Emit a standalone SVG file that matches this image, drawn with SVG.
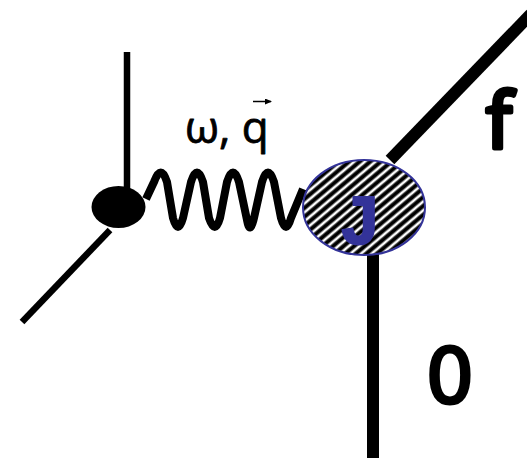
<svg xmlns="http://www.w3.org/2000/svg" width="527" height="458" viewBox="0 0 527 458">
<style>
.l{fill:none;stroke:#000;stroke-linecap:butt}
.t{stroke-linejoin:round;stroke-linecap:round}
</style>
<defs>
<linearGradient id="g" x1="0" y1="0" x2="1" y2="0">
<stop offset="0" stop-color="#000"/><stop offset=".4" stop-color="#000"/><stop offset=".62" stop-color="#fff"/><stop offset=".78" stop-color="#fff"/><stop offset="1" stop-color="#000"/>
</linearGradient>
<pattern id="h" width="6.800" height="20" patternUnits="userSpaceOnUse" patternTransform="rotate(50)">
<rect width="6.800" height="20" fill="url(#g)"/>
</pattern>
<marker id="a" markerWidth="7" markerHeight="6" refX="6" refY="3" orient="auto" markerUnits="userSpaceOnUse"><path d="M0 0L7 3L0 6Z"/></marker>
</defs>
<g id="connectors">
<path class="l" stroke-width="6.500" d="M127 52V192"/>
<path class="l" stroke-width="6.500" d="M110 230L22 322"/>
<path class="l" stroke-width="12" d="M390 160L531 14"/>
<path class="l" stroke-width="12" d="M373 254V458"/>
<path id="spring" class="l" stroke-width="8" stroke-linejoin="round" d="M146 199L154 182Q161 163 167 182L173 218Q178 236 183 218L191 182Q197 163 203 182L209 218Q215 236 220 218L227 182Q233 163 239 182L247 220Q250 236 254 218L262 182Q268 163 274 182L281 218Q286 236 291 218L303 189"/>
</g>
<g id="vertex-dot"><ellipse cx="118.500" cy="207" rx="27" ry="21"/></g>
<g id="blob-J">
<ellipse cx="364" cy="207.500" rx="61" ry="47.500" fill="url(#h)" stroke="#333399" stroke-width="2"/>
<text class="t" x="360" y="244" font-family="'Liberation Mono',monospace" font-size="70" font-weight="700" fill="#333399" stroke="#333399" stroke-width="2" text-anchor="middle">J</text>
</g>
<g id="label-omega-q">
<text class="t" x="185" y="143" font-family="'Open Sans',sans-serif" font-size="44" fill="#000" stroke="#000" stroke-width="0.800">ω, q</text>
<path d="M253 101.500H271" stroke="#000" stroke-width="1.500" marker-end="url(#a)"/>
</g>
<g id="label-f"><text class="t" x="499" y="148" font-family="'Open Sans',sans-serif" font-size="76" fill="#000" stroke="#000" stroke-width="5" text-anchor="middle">f</text></g>
<g id="label-0"><text class="t" x="450" y="403" font-family="'DejaVu Sans',sans-serif" font-size="76" fill="#000" stroke="#000" stroke-width="3" text-anchor="middle">0</text></g>
</svg>
